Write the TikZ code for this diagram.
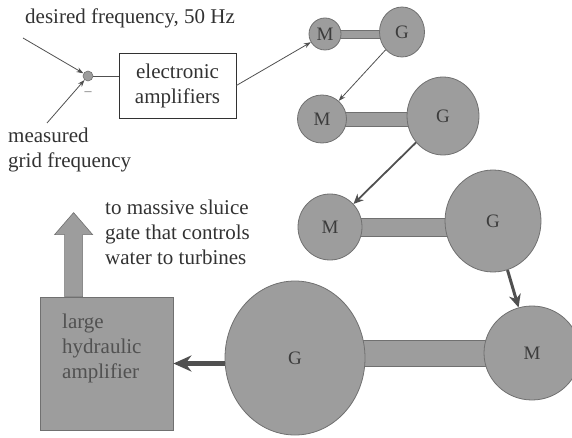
\documentclass[tikz,border=0pt]{standalone}
\usepackage{fontspec}
\setmainfont{Liberation Serif}
\usetikzlibrary{shapes.geometric,arrows.meta,calc,backgrounds}
\definecolor{machfill}{RGB}{157,157,157}
\definecolor{machline}{RGB}{112,112,112}
\definecolor{ink}{RGB}{50,50,50}
\definecolor{arr}{RGB}{80,80,80}
\begin{document}
\begin{tikzpicture}[x=1pt,y=-1pt,
  every node/.style={font=\fontsize{21}{25}\selectfont, text=ink},
  mach/.style={ellipse, fill=machfill, draw=machline, line width=0.8pt, inner sep=0pt,
    text=ink!95, font=\fontsize{19}{20}\selectfont},
  shaft/.style={fill=machfill, draw=machline, line width=0.6pt},
  sig/.style={draw=arr, line width=0.8pt, -{Stealth[length=7pt,width=5pt]}},
]
\useasboundingbox (0,0) rectangle (572,438);

% machines
\node[mach, minimum width=32pt, minimum height=32pt] (M1) at (325,34) {M};
\node[mach, minimum width=45pt, minimum height=50pt] (G1) at (402,32) {G};
\node[mach, minimum width=49pt, minimum height=48pt] (M2) at (322,119) {M};
\node[mach, minimum width=72pt, minimum height=78pt] (G2) at (443,116) {G};
\node[mach, minimum width=64pt, minimum height=66pt] (M3) at (330,227) {M};
\node[mach, minimum width=96pt, minimum height=102pt] (G3) at (493,221) {G};
\node[mach, minimum width=140pt, minimum height=154pt] (G4) at (295,358) {G};
\node[mach, minimum width=96pt, minimum height=94pt] (M4) at (532,353) {M};

% hydraulic amplifier
\node[fill=machfill, draw=machline, line width=0.8pt, minimum width=133pt,
  minimum height=133pt, inner sep=0pt] (hyd) at (106.5,363.5) {};
\node[anchor=west, align=left, inner sep=0pt, text=ink!85] (hydtext) at (62,348)
  {large\\hydraulic\\amplifier};

\begin{scope}[on background layer]
  \filldraw[shaft] ($(M1.center)+(0,-4)$) rectangle ($(G1.center|-M1.center)+(0,4)$);
  \filldraw[shaft] ($(M2.center)+(0,-7)$) rectangle ($(G2.center|-M2.center)+(0,7)$);
  \filldraw[shaft] ($(M3.center)+(0,-9)$) rectangle ($(G3.center|-M3.center)+(0,9)$);
  \filldraw[shaft] ($(G4.center|-M4.center)+(0,-13)$) rectangle ($(M4.center)+(0,13)$);
  \coordinate (ub) at ($(hyd.north west)+(34,0)$);
  \filldraw[shaft] ($(ub)+(-9,0)$) -- ($(ub)+(-9,-62)$) -- ($(ub)+(-19,-62)$)
    -- ($(ub)+(0,-84)$) -- ($(ub)+(19,-62)$) -- ($(ub)+(9,-62)$) -- ($(ub)+(9,0)$) -- cycle;
\end{scope}

% controller
\node[circle, fill=machfill, draw=machline, line width=0.6pt, minimum size=10pt,
  inner sep=0pt] (S) at (88,76) {};
\node[draw=ink, line width=0.8pt, minimum width=117pt, minimum height=65pt,
  align=center, inner sep=0pt] (amp) at (177.5,85.5) {electronic\\amplifiers};
\coordinate (din) at (23,38);
\coordinate (min) at (47,123);
\draw[sig] (din) -- (S);
\draw[sig] (min) -- (S);
\draw[draw=arr, line width=0.8pt] (S.east) -- (S.east -| amp.west);
\node[font=\fontsize{14}{14}\selectfont, text=ink!70, inner sep=0pt] (minus) at (88,94) {–};

% texts
\node[anchor=west, inner sep=0pt] (dtext) at (25,18) {desired frequency, 50 Hz};
\node[anchor=west, align=left, inner sep=0pt] (mtext) at (8,150) {measured\\grid frequency};
\node[anchor=west, align=left, inner sep=0pt] (stext) at (105,232)
  {to massive sluice\\gate that controls\\water to turbines};

% signal chain
\draw[sig] (amp.east) -- (M1);
\draw[sig] (G1) -- (M2);
\draw[draw=arr, line width=1.8pt, -{Stealth[length=10pt,width=9pt]}] (G2) -- (M3);
\draw[draw=arr, line width=3pt, -{Stealth[length=13pt,width=12pt]}] (G3) -- (M4);
\draw[draw=arr, line width=5pt, -{Stealth[length=18pt,width=16pt]}] (hyd.east -| G4.west) -- (hyd.east);
\end{tikzpicture}
\end{document}
